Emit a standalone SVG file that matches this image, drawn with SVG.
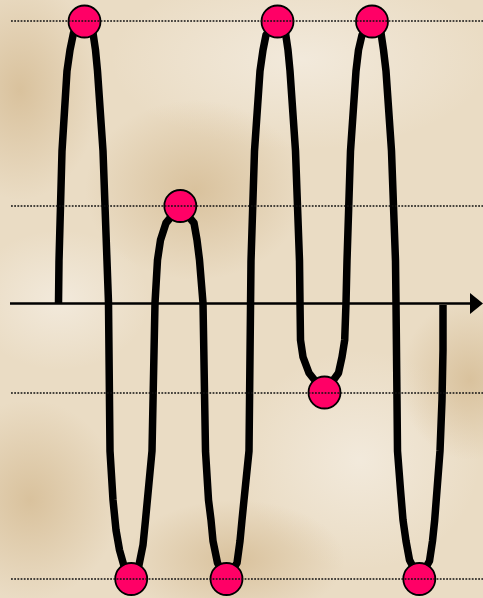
<svg xmlns="http://www.w3.org/2000/svg" width="483" height="598" viewBox="0 0 483 598">
  <defs>
    <radialGradient id="dark">
      <stop offset="0" stop-color="#D6BD96" stop-opacity="0.85"/>
      <stop offset="1" stop-color="#D6BD96" stop-opacity="0"/>
    </radialGradient>
    <radialGradient id="light">
      <stop offset="0" stop-color="#F3EBDE" stop-opacity="0.9"/>
      <stop offset="1" stop-color="#F3EBDE" stop-opacity="0"/>
    </radialGradient>
    <style>
      .guide { stroke: #111; stroke-width: 1.6; stroke-dasharray: 1.8 1.4; fill: none; }
      .wave { stroke: #000; stroke-width: 7.5; fill: none; stroke-linejoin: round; stroke-linecap: butt; }
      .dot { fill: #FF0066; stroke: #000; stroke-width: 1.8; }
    </style>
  </defs>

  <g id="background">
    <rect width="483" height="598" fill="#EADCC4"/>
    <ellipse cx="300" cy="60" rx="190" ry="90" fill="url(#light)"/>
    <ellipse cx="360" cy="460" rx="120" ry="110" fill="url(#light)"/>
    <ellipse cx="60" cy="300" rx="90" ry="70" fill="url(#light)"/>
    <ellipse cx="20" cy="90" rx="80" ry="110" fill="url(#dark)"/>
    <ellipse cx="195" cy="190" rx="110" ry="90" fill="url(#dark)"/>
    <ellipse cx="30" cy="500" rx="90" ry="100" fill="url(#dark)"/>
    <ellipse cx="235" cy="560" rx="110" ry="60" fill="url(#dark)"/>
    <ellipse cx="470" cy="380" rx="70" ry="80" fill="url(#dark)"/>
  </g>

  <g id="axis">
    <line x1="10" y1="303.5" x2="472" y2="303.5" stroke="#000" stroke-width="2.3"/>
    <polygon points="470,293 483,303.5 470,314" fill="#000"/>
  </g>

  <g id="connectors">
    <path class="wave" d="M58.5,303 L59,261 L62,151 L67,71 L70,50 L73.5,33 L84.5,21.5
      L93,33 L95.5,50 L97.5,71 L103,151 L107,261 L108.5,303 L110,451 L113,500 L116,530 L119.5,550 L124,566 L131,579
      L139,565 L143,545 L145.5,520 L152,451 L155,303 L157.5,260 L160.5,240 L166,223 L180,206
      L194,223 L197,240 L199.5,260 L203,303 L205.5,451 L208.5,500 L211,520 L213,541 L217.5,563 L226.5,579
      L237,563 L240,541 L242,520 L244,500 L249,451 L251,261 L254.5,151 L260,71 L263,50 L266,35 L277.5,21.5
      L285.5,33 L288,50 L290,71 L295.5,151 L299.5,261 L300,303 L300.5,340 L303,357 L309,373 L324.5,392.5
      L338.5,373 L342,357 L344.7,340 L346,303 L347,261 L350.5,151 L356,71 L358.5,50 L362,35 L372,21.5
      L381,33 L383.5,50 L386,71 L391.5,151 L395.5,261 L396,303 L397,400 L397.5,451 L400.5,490 L403,520 L406,541 L409.5,560 L419.3,579
      L429.5,561 L432.5,541 L434.7,520 L437,490 L440,451 L442,400 L443,350 L443,305"/>
  </g>

  <g id="node-1"><circle class="dot" cx="84.5" cy="21.5" r="16"/></g>
  <g id="node-2"><circle class="dot" cx="131.2" cy="579" r="16"/></g>
  <g id="node-3"><circle class="dot" cx="180.3" cy="206" r="16"/></g>
  <g id="node-4"><circle class="dot" cx="226.5" cy="579" r="16"/></g>
  <g id="node-5"><circle class="dot" cx="277.5" cy="21.5" r="16"/></g>
  <g id="node-6"><circle class="dot" cx="324.5" cy="392.5" r="16"/></g>
  <g id="node-7"><circle class="dot" cx="372" cy="21.5" r="16"/></g>
  <g id="node-8"><circle class="dot" cx="419.3" cy="579" r="16"/></g>

  <g id="guides">
    <line class="guide" x1="11" y1="21" x2="483" y2="21"/>
    <line class="guide" x1="11" y1="206" x2="483" y2="206"/>
    <line class="guide" x1="11" y1="393" x2="483" y2="393"/>
    <line class="guide" x1="11" y1="579" x2="483" y2="579"/>
  </g>
</svg>
